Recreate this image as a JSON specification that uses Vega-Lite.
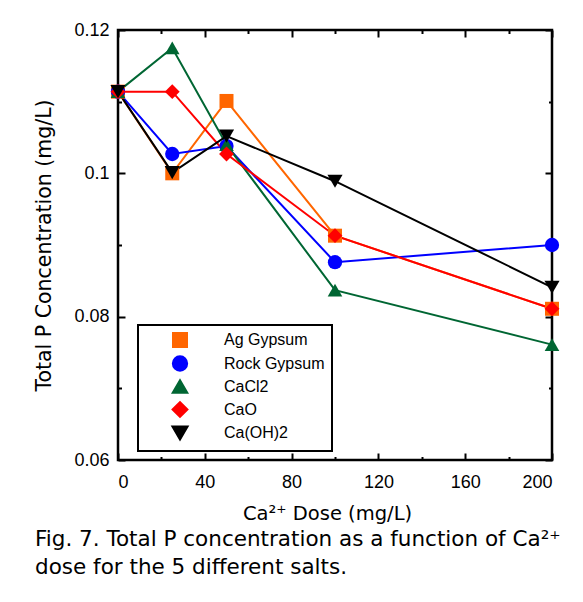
{
  "$schema": "https://vega.github.io/schema/vega-lite/v6.json",
  "width": 434,
  "height": 430,
  "autosize": "none",
  "padding": {"left": 118, "top": 30, "right": 31, "bottom": 142},
  "background": "white",
  "config": {
    "font": "Liberation Sans",
    "view": {"stroke": "black", "strokeWidth": 2.5},
    "axis": {"domain": false, "grid": false, "tickColor": "black", "tickWidth": 2, "labelColor": "black", "titleColor": "black", "labelFont": "Liberation Sans", "titleFont": "DejaVu Sans", "labelFontSize": 18, "titleFontSize": 20.5, "titleFontWeight": "normal"},
    "legend": {"strokeColor": "black", "strokeWidth": 2, "labelFont": "Liberation Sans", "labelFontSize": 16, "labelColor": "black"}
  },
  "data": {"values": [
    {"salt": "Ag Gypsum", "dose": 0, "tp": 0.1114},
    {"salt": "Ag Gypsum", "dose": 25, "tp": 0.1000},
    {"salt": "Ag Gypsum", "dose": 50, "tp": 0.1101},
    {"salt": "Ag Gypsum", "dose": 100, "tp": 0.0913},
    {"salt": "Ag Gypsum", "dose": 200, "tp": 0.0811},
    {"salt": "Rock Gypsum", "dose": 0, "tp": 0.1114},
    {"salt": "Rock Gypsum", "dose": 25, "tp": 0.1027},
    {"salt": "Rock Gypsum", "dose": 50, "tp": 0.1038},
    {"salt": "Rock Gypsum", "dose": 100, "tp": 0.0876},
    {"salt": "Rock Gypsum", "dose": 200, "tp": 0.0900},
    {"salt": "CaCl2", "dose": 0, "tp": 0.1114},
    {"salt": "CaCl2", "dose": 25, "tp": 0.1175},
    {"salt": "CaCl2", "dose": 50, "tp": 0.1040},
    {"salt": "CaCl2", "dose": 100, "tp": 0.0837},
    {"salt": "CaCl2", "dose": 200, "tp": 0.0761},
    {"salt": "CaO", "dose": 0, "tp": 0.1114},
    {"salt": "CaO", "dose": 25, "tp": 0.1114},
    {"salt": "CaO", "dose": 50, "tp": 0.1027},
    {"salt": "CaO", "dose": 100, "tp": 0.0913},
    {"salt": "CaO", "dose": 200, "tp": 0.0811},
    {"salt": "Ca(OH)2", "dose": 0, "tp": 0.1114},
    {"salt": "Ca(OH)2", "dose": 25, "tp": 0.1001},
    {"salt": "Ca(OH)2", "dose": 50, "tp": 0.1052},
    {"salt": "Ca(OH)2", "dose": 100, "tp": 0.0989},
    {"salt": "Ca(OH)2", "dose": 200, "tp": 0.0841}
  ]},
  "title": {
    "text": ["Fig. 7. Total P concentration as a function of Ca²⁺", "dose for the 5 different salts."],
    "orient": "bottom", "anchor": "start", "frame": "group", "dx": -83, "offset": 6,
    "fontSize": 21.5, "font": "DejaVu Sans", "fontWeight": "normal", "lineHeight": 28, "color": "black", "baseline": "top"
  },
  "resolve": {"axis": {"x": "independent", "y": "independent"}},
  "layer": [
    {
      "mark": {"type": "line", "strokeWidth": 2},
      "encoding": {
        "x": {"field": "dose", "type": "quantitative", "scale": {"domain": [0, 200], "nice": false},
              "axis": {"orient": "bottom", "values": [0, 40, 80, 120, 160, 200], "tickSize": -7, "labelPadding": 20, "title": "Ca²⁺ Dose (mg/L)", "titleFontSize": 19.5, "titlePadding": 13, "titleX": 209, "titleAlign": "center"}},
        "y": {"field": "tp", "type": "quantitative", "scale": {"domain": [0.06, 0.12], "nice": false, "zero": false},
              "axis": {"orient": "left", "values": [0.06, 0.08, 0.1, 0.12], "labelExpr": "datum.value > 0.099 && datum.value < 0.101 ? '0.1' : format(datum.value, '.2f')", "tickSize": -7, "labelPadding": 16, "title": "Total P Concentration (mg/L)", "titlePadding": 19}},
        "color": {"field": "salt", "type": "nominal",
                  "scale": {"domain": ["Ag Gypsum", "Rock Gypsum", "CaCl2", "CaO", "Ca(OH)2"], "range": ["#FF6600", "#0000FF", "#006633", "#FF0000", "#000000"]},
                  "legend": {
                    "orient": "none", "legendX": 20, "legendY": 295, "title": null,
                    "padding": 7, "symbolOffset": 26, "labelOffset": 35, "rowPadding": 1,
                    "symbolSize": 196,
                    "encode": {"symbols": {"update": {
                      "shape": {"signal": "datum.value === 'Ag Gypsum' ? 'M-5,0H5M-1,-1H1V1H-1Z' : datum.value === 'Rock Gypsum' ? 'M-5,0H5M1.1,0A1.1,1.1 0 1,1 -1.1,0A1.1,1.1 0 1,1 1.1,0Z' : datum.value === 'CaCl2' ? 'M-5,0H5M0,-1.05L1.15,0.95H-1.15Z' : datum.value === 'CaO' ? 'M-5,0H5M0,-1.1L1.1,0L0,1.1L-1.1,0Z' : 'M-5,0H5M0,1.05L1.15,-0.95H-1.15Z'"},
                      "fill": {"scale": "color", "field": "value"},
                      "stroke": {"scale": "color", "field": "value"},
                      "strokeWidth": {"value": 2},
                      "size": {"value": 196},
                      "opacity": {"value": 1}
                    }}}
                  }}
      }
    },
    {
      "mark": {"type": "point", "filled": true, "opacity": 1},
      "encoding": {
        "x": {"field": "dose", "type": "quantitative", "axis": {"orient": "top", "values": [0, 40, 80, 120, 160, 200], "tickSize": -7, "labels": false, "title": null}},
        "y": {"field": "tp", "type": "quantitative", "axis": {"orient": "right", "values": [0.06, 0.08, 0.1, 0.12], "tickSize": -7, "labels": false, "title": null}},
        "color": {"field": "salt", "type": "nominal",
                  "legend": {
                    "orient": "none", "legendX": 20, "legendY": 295, "title": null,
                    "padding": 7, "symbolOffset": 26, "labelOffset": 35, "rowPadding": 1,
                    "symbolSize": 196,
                    "encode": {"symbols": {"update": {
                      "shape": {"signal": "datum.value === 'Ag Gypsum' ? 'M-5,0H5M-1,-1H1V1H-1Z' : datum.value === 'Rock Gypsum' ? 'M-5,0H5M1.1,0A1.1,1.1 0 1,1 -1.1,0A1.1,1.1 0 1,1 1.1,0Z' : datum.value === 'CaCl2' ? 'M-5,0H5M0,-1.05L1.15,0.95H-1.15Z' : datum.value === 'CaO' ? 'M-5,0H5M0,-1.1L1.1,0L0,1.1L-1.1,0Z' : 'M-5,0H5M0,1.05L1.15,-0.95H-1.15Z'"},
                      "fill": {"scale": "color", "field": "value"},
                      "stroke": {"scale": "color", "field": "value"},
                      "strokeWidth": {"value": 2},
                      "size": {"value": 196},
                      "opacity": {"value": 1}
                    }}}
                  }},
        "shape": {"field": "salt", "type": "nominal",
                  "scale": {"domain": ["Ag Gypsum", "Rock Gypsum", "CaCl2", "CaO", "Ca(OH)2"], "range": ["square", "circle", "triangle-up", "diamond", "triangle-down"]},
                  "legend": {
                    "orient": "none", "legendX": 20, "legendY": 295, "title": null,
                    "padding": 7, "symbolOffset": 26, "labelOffset": 35, "rowPadding": 1,
                    "symbolSize": 196,
                    "encode": {"symbols": {"update": {
                      "shape": {"signal": "datum.value === 'Ag Gypsum' ? 'M-5,0H5M-1,-1H1V1H-1Z' : datum.value === 'Rock Gypsum' ? 'M-5,0H5M1.1,0A1.1,1.1 0 1,1 -1.1,0A1.1,1.1 0 1,1 1.1,0Z' : datum.value === 'CaCl2' ? 'M-5,0H5M0,-1.05L1.15,0.95H-1.15Z' : datum.value === 'CaO' ? 'M-5,0H5M0,-1.1L1.1,0L0,1.1L-1.1,0Z' : 'M-5,0H5M0,1.05L1.15,-0.95H-1.15Z'"},
                      "fill": {"scale": "color", "field": "value"},
                      "stroke": {"scale": "color", "field": "value"},
                      "strokeWidth": {"value": 2},
                      "size": {"value": 196},
                      "opacity": {"value": 1}
                    }}}
                  }},
        "size": {"field": "salt", "type": "nominal",
                 "scale": {"domain": ["Ag Gypsum", "Rock Gypsum", "CaCl2", "CaO", "Ca(OH)2"], "range": [196, 230, 260, 225, 250]},
                 "legend": null}
      }
    },
    {
      "mark": {"type": "point", "opacity": 0},
      "encoding": {
        "x": {"field": "dose", "type": "quantitative", "axis": {"orient": "bottom", "values": [20, 60, 100, 140, 180], "tickSize": -3.5, "labels": false, "title": null}},
        "y": {"field": "tp", "type": "quantitative", "axis": {"orient": "left", "values": [0.07, 0.09, 0.11], "tickSize": -3.5, "labels": false, "title": null}}
      }
    },
    {
      "mark": {"type": "point", "opacity": 0},
      "encoding": {
        "x": {"field": "dose", "type": "quantitative", "axis": {"orient": "top", "values": [20, 60, 100, 140, 180], "tickSize": -3.5, "labels": false, "title": null}},
        "y": {"field": "tp", "type": "quantitative", "axis": {"orient": "right", "values": [0.07, 0.09, 0.11], "tickSize": -3.5, "labels": false, "title": null}}
      }
    }
  ]
}
